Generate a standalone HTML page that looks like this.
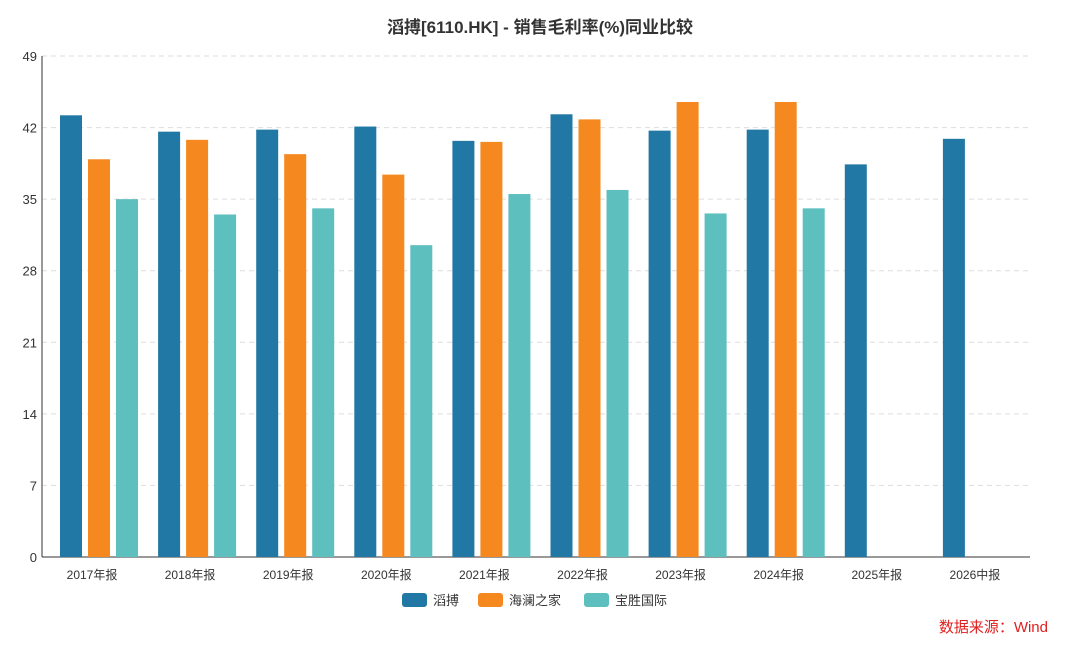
<!DOCTYPE html>
<html><head><meta charset="utf-8"><style>
body{margin:0;background:#fff;width:1080px;height:651px;overflow:hidden;font-family:"Liberation Sans","Noto Sans CJK SC",sans-serif;}
</style></head><body>
<svg id="c" width="1080" height="651" font-family="Liberation Sans, Noto Sans CJK SC, sans-serif"></svg>
<script>
const categories=["2017年报","2018年报","2019年报","2020年报","2021年报","2022年报","2023年报","2024年报","2025年报","2026中报"];
const seriesNames=["滔搏","海澜之家","宝胜国际"];
const taobo=[43.2,41.6,41.8,42.1,40.7,43.3,41.7,41.8,38.4,40.9];
const hailan=[38.9,40.8,39.4,37.4,40.6,42.8,44.5,44.5,null,null];
const baosheng=[35.0,33.5,34.1,30.5,35.5,35.9,33.6,34.1,null,null];
const yTicks=[0,7,14,21,28,35,42,49];
const colors=["#2278a4","#f5881f","#5ebfbf"];
const svg=document.getElementById('c');const NS='http://www.w3.org/2000/svg';
function mk(t,a,p){const e=document.createElementNS(NS,t);for(const k in a)e.setAttribute(k,a[k]);(p||svg).appendChild(e);return e;}
const x0=42,x1=1030,y0=557,y1=56;
const y=v=>y0-(v/49)*(y0-y1);
const band=98.1, first=60;
const t=mk('text',{x:540,y:33,'text-anchor':'middle','font-size':17,'font-weight':'bold',fill:'#333'});t.textContent='滔搏[6110.HK] - 销售毛利率(%)同业比较';


yTicks.forEach(v=>{
 if(v>0){const g=mk('line',{x1:x0,x2:x1,y1:y(v),y2:y(v),stroke:'#ddd','stroke-dasharray':'5,4'});
 
 }
 const l=mk('text',{x:37,y:y(v)+5,'text-anchor':'end','font-size':13,fill:'#333'});l.textContent=v;
 
 
});
const ax=mk('line',{x1:x0,x2:x0,y1:y1,y2:y0,stroke:'#333'});


const bx=mk('line',{x1:x0,x2:x1,y1:y0,y2:y0,stroke:'#333'});


const series=[taobo,hailan,baosheng];
categories.forEach((c,i)=>{
 const s=first+band*i;
 const l=mk('text',{x:s+32,y:y0+22,'text-anchor':'middle','font-size':12,fill:'#333'});l.textContent=c;
 
 
 series.forEach((arr,j)=>{
  const v=arr[i];if(v==null)return;
  const r=mk('rect',{x:s+j*28,y:y(v),width:22,height:y0-y(v),fill:colors[j]});
  
  
 });
});
const lx=[402,478,584];
seriesNames.forEach((n,j)=>{
 const g=mk('g',{});
 
 
 mk('rect',{x:lx[j],y:593,width:25,height:14,rx:3,fill:colors[j]},g);
 const tt=mk('text',{x:lx[j]+31,y:605,'font-size':13,fill:'#333'},g);tt.textContent=n;
});
const src=mk('text',{x:1048,y:632,'text-anchor':'end','font-size':15,fill:'#e02020'});src.textContent='数据来源：Wind';


</script>
</body></html>
